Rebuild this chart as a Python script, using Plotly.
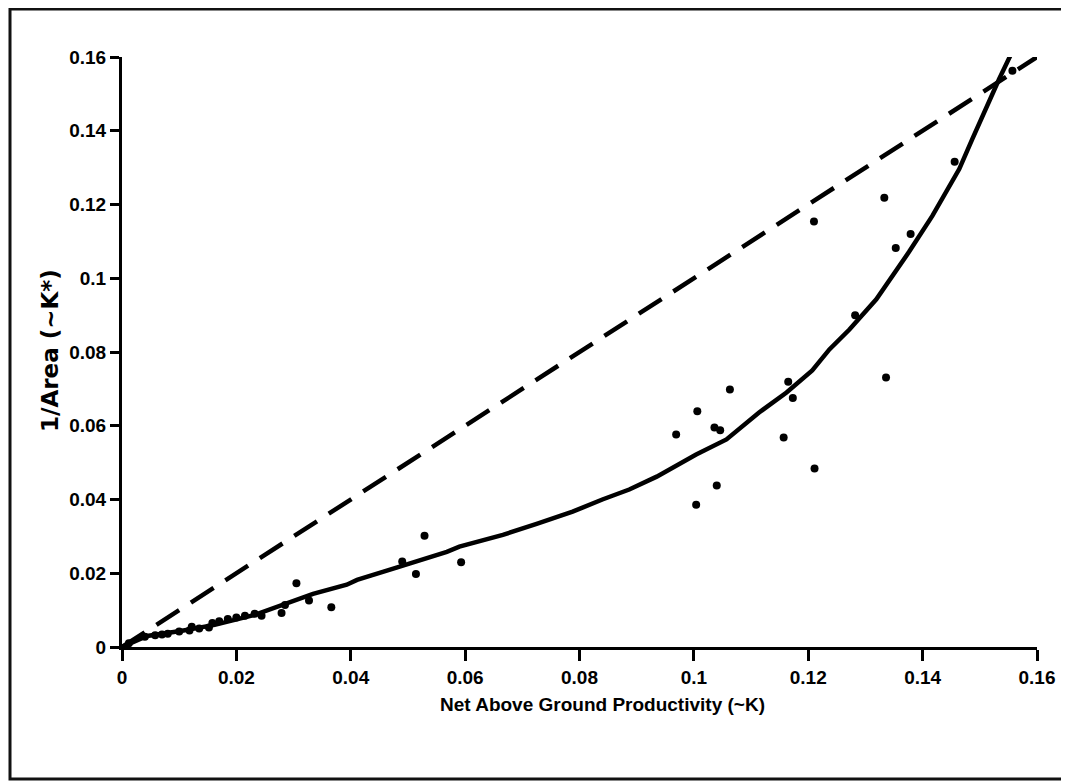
import plotly.graph_objects as go

# ---- data ----
obs_x = [0.0012, 0.0040, 0.0058, 0.0070, 0.0080, 0.0100, 0.0118, 0.0122, 0.0135, 0.0152, 0.0158,
         0.0170, 0.0185, 0.0200, 0.0215, 0.0232, 0.0244, 0.0279, 0.0285, 0.0305, 0.0327, 0.0366,
         0.0490, 0.0514, 0.0529, 0.0593,
         0.0969, 0.1004, 0.1006, 0.1036, 0.1040, 0.1046, 0.1063,
         0.1157, 0.1165, 0.1173, 0.1210, 0.1211, 0.1282, 0.1333, 0.1336, 0.1353, 0.1379, 0.1456, 0.1557]
obs_y = [0.0010, 0.0028, 0.0032, 0.0034, 0.0036, 0.0042, 0.0045, 0.0055, 0.0050, 0.0053, 0.0065,
         0.0070, 0.0076, 0.0080, 0.0085, 0.0090, 0.0085, 0.0092, 0.0114, 0.0173, 0.0126, 0.0108,
         0.0232, 0.0198, 0.0302, 0.0230,
         0.0576, 0.0386, 0.0639, 0.0595, 0.0438, 0.0588, 0.0698,
         0.0568, 0.0719, 0.0675, 0.1154, 0.0484, 0.0900, 0.1218, 0.0731, 0.1082, 0.1120, 0.1316, 0.1563]

fit_x = [0.0, 0.0044, 0.0105, 0.0162, 0.0232, 0.0290, 0.0334, 0.0393, 0.0411, 0.0480, 0.0568,
         0.0590, 0.0666, 0.0725, 0.0788, 0.0840, 0.0887, 0.0935, 0.1004, 0.1057, 0.1114, 0.1162,
         0.1207, 0.1237, 0.1272, 0.1319, 0.1376, 0.1417, 0.1464, 0.1487, 0.1520, 0.1534, 0.1555]
fit_y = [0.0, 0.0030, 0.0044, 0.0060, 0.0087, 0.0120, 0.0144, 0.0169, 0.0182, 0.0215, 0.0258,
         0.0272, 0.0304, 0.0334, 0.0367, 0.0400, 0.0427, 0.0462, 0.0522, 0.0563, 0.0636, 0.0690,
         0.0750, 0.0807, 0.0861, 0.0943, 0.1071, 0.1169, 0.1296, 0.1378, 0.1495, 0.1541, 0.1609]

ref_x = [0.0, 0.162]
ref_y = [0.0, 0.162]

tick_vals = [0, 0.02, 0.04, 0.06, 0.08, 0.1, 0.12, 0.14, 0.16]
tick_text = ["0", "0.02", "0.04", "0.06", "0.08", "0.1", "0.12", "0.14", "0.16"]

x_title = "Net Above Ground Productivity (~K)"
y_title = "1/Area (~K*)"

# ---- figure ----
fig = go.Figure()
fig.add_trace(go.Scatter(x=ref_x, y=ref_y, mode="lines",
                         line=dict(color="black", width=4.5, dash="27px,14px"),
                         showlegend=False, hoverinfo="skip"))
fig.add_trace(go.Scatter(x=fit_x, y=fit_y, mode="lines",
                         line=dict(color="black", width=4.5),
                         showlegend=False, hoverinfo="skip"))
fig.add_trace(go.Scatter(x=obs_x, y=obs_y, mode="markers",
                         marker=dict(color="black", size=8),
                         showlegend=False))

tick_font = dict(family="Liberation Sans, Arial, sans-serif", size=19, color="black", weight="bold")

# page body has an 8px default margin: plot area placed so that it lands at
# screen x 122..1037, y 57..647
fig.update_layout(
    width=1069, height=782,
    margin=dict(l=114, r=40, t=49, b=143),
    paper_bgcolor="white", plot_bgcolor="white",
    xaxis=dict(range=[0, 0.16], tickvals=tick_vals, ticktext=tick_text,
               showgrid=False, zeroline=False, showline=True, linecolor="black", linewidth=3,
               ticks="outside", ticklen=11, tickwidth=3, tickcolor="black",
               tickfont=tick_font),
    yaxis=dict(range=[0, 0.16], tickvals=tick_vals, ticktext=tick_text,
               showgrid=False, zeroline=False, showline=True, linecolor="black", linewidth=3,
               ticks="outside", ticklen=9, tickwidth=3, tickcolor="black",
               tickfont=tick_font),
    font=dict(family="Liberation Sans, Arial, sans-serif", color="black"),
)

fig.add_annotation(text=x_title, xref="paper", yref="paper",
                   x=(602 - 122) / 915, y=(647 - 704) / 590, xanchor="center", yanchor="middle",
                   showarrow=False,
                   font=dict(family="Liberation Sans, Arial", size=19, color="black", weight="bold"))
fig.add_annotation(text=y_title, xref="paper", yref="paper",
                   x=(50 - 122) / 915, y=(647 - 351) / 590, xanchor="center", yanchor="middle",
                   textangle=-90, showarrow=False,
                   font=dict(family="DejaVu Sans", size=23, color="black", weight="bold"))

# outer frame
fig.add_shape(type="rect", xref="paper", yref="paper",
              x0=(10 - 122) / 915, x1=(1066 - 122) / 915,
              y0=(647 - 779) / 590, y1=(647 - 9) / 590,
              line=dict(color="#111111", width=3), fillcolor="rgba(0,0,0,0)")

fig.write_html("out.html")
